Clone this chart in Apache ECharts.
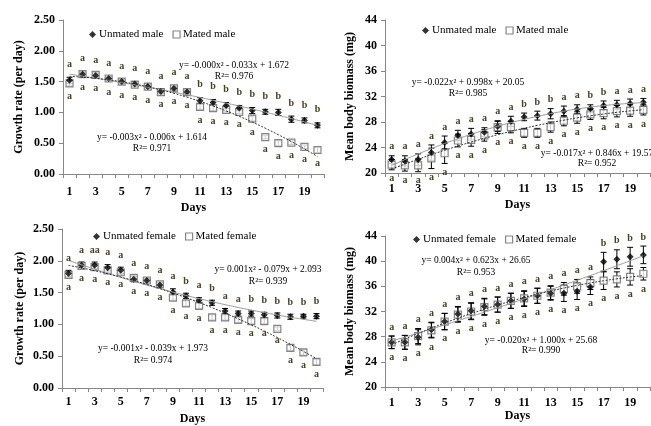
<!DOCTYPE html>
<html>
<head>
<meta charset="utf-8">
<script src="https://cdn.jsdelivr.net/npm/echarts@6/dist/echarts.min.js"></script>
<style>
  html, body { margin: 0; padding: 0; background: #fff; }
  #main { width: 651px; height: 426px; }
</style>
</head>
<body>
<div id="main"></div>
<script>
// days on the x axis
var days = ['1','2','3','4','5','6','7','8','9','10','11','12','13','14','15','16','17','18','19','20'];

// growth rate, males
var maleRateUnmated    = [1.52,1.62,1.60,1.55,1.50,1.46,1.42,1.34,1.39,1.33,1.19,1.16,1.11,1.07,1.03,1.01,1.00,0.89,0.87,0.79];
var maleRateUnmatedErr = [0.05,0.04,0.04,0.04,0.04,0.04,0.04,0.04,0.04,0.04,0.05,0.05,0.05,0.04,0.05,0.04,0.05,0.05,0.04,0.04];
var maleRateMated      = [1.47,1.62,1.61,1.55,1.50,1.45,1.42,1.33,1.39,1.33,1.09,1.07,1.04,1.01,0.90,0.60,0.50,0.51,0.44,0.39];
var maleRateMatedErr   = [0.04,0.03,0.03,0.03,0.03,0.03,0.03,0.03,0.03,0.03,0.04,0.04,0.03,0.03,0.04,0.03,0.04,0.03,0.03,0.04];
var maleRateTop = ['a','a','a','a','a','a','a','a','a','a','b','b','b','b','b','b','b','b','b','b'];
var maleRateBot = ['a','a','a','a','a','a','a','a','a','a','a','a','a','a','a','a','a','a','a','a'];

// body biomass, males
var maleMassUnmated    = [22.1,21.9,22.1,23.2,24.8,25.9,26.1,26.4,27.3,28.1,28.8,29.0,29.3,29.7,30.0,30.1,30.6,30.7,30.9,31.1];
var maleMassUnmatedErr = [0.6,0.8,0.9,1.2,1.0,0.8,0.9,0.7,0.8,0.8,0.6,0.7,0.8,0.8,0.7,0.6,0.7,0.7,0.7,0.6];
var maleMassMated      = [21.3,21.2,21.2,22.3,23.1,25.1,25.2,25.9,27.2,27.2,26.3,26.3,27.2,28.2,28.7,29.2,29.4,29.7,29.8,29.9];
var maleMassMatedErr   = [0.8,0.9,1.0,1.6,1.6,1.0,1.0,0.9,1.0,0.9,0.7,0.7,0.8,0.8,0.9,0.8,0.9,0.9,0.9,0.8];
var maleMassTop = ['a','a','a','a','a','a','a','a','a','a','b','b','b','a','a','b','b','a','a','a'];
var maleMassBot = ['a','a','a','a','a','a','a','a','a','a','a','a','a','a','a','a','a','a','a','a'];

// growth rate, females
var femRateUnmated    = [1.80,1.93,1.93,1.89,1.85,1.71,1.69,1.62,1.51,1.45,1.38,1.34,1.21,1.17,1.17,1.15,1.14,1.12,1.13,1.13];
var femRateUnmatedErr = [0.05,0.05,0.05,0.05,0.05,0.04,0.04,0.04,0.05,0.04,0.04,0.04,0.04,0.04,0.04,0.04,0.04,0.04,0.03,0.04];
var femRateMated      = [1.78,1.92,1.90,1.85,1.82,1.73,1.69,1.63,1.42,1.33,1.29,1.11,1.11,1.07,1.05,1.05,0.93,0.63,0.56,0.41];
var femRateMatedErr   = [0.04,0.04,0.04,0.04,0.04,0.04,0.03,0.03,0.04,0.04,0.04,0.04,0.04,0.04,0.04,0.04,0.03,0.04,0.04,0.04];
var femRateTop = ['a','a','aa','a','a','a','a','a','a','b','a','b','a','a','b','b','b','b','b','b'];
var femRateBot = ['a','a','a','a','a','a','a','a','a','a','a','a','a','a','a','a','a','a','a','a'];

// body biomass, females
var femMassUnmated    = [27.1,27.1,27.9,29.1,30.4,31.6,32.1,32.8,33.1,33.7,34.0,34.5,34.9,34.9,35.2,35.9,39.9,40.3,40.7,41.0];
var femMassUnmatedErr = [1.0,1.1,1.2,1.2,1.3,1.2,1.3,1.3,1.2,1.2,1.2,1.2,1.1,1.3,1.3,1.2,1.5,1.5,1.5,1.4];
var femMassMated      = [27.1,27.1,28.1,29.0,30.4,31.5,32.0,32.7,33.1,33.7,34.1,34.5,35.0,35.6,36.0,36.5,36.9,37.1,37.5,38.0];
var femMassMatedErr   = [1.0,1.1,1.2,1.2,1.3,1.2,1.3,1.3,1.2,1.2,1.2,1.2,1.1,1.0,1.1,1.0,1.4,1.2,1.3,1.0];
var femMassTop = ['a','a','a','a','a','a','a','a','a','a','a','a','a','a','a','a','b','b','b','b'];
var femMassBot = ['a','a','a','a','a','a','a','a','a','a','a','a','a','a','a','a','a','a','a','a'];

var serif = "'Liberation Serif', 'Times New Roman', serif";
var letterColor = '#4a4020';
var axisColor = '#888';

// least squares quadratic, same as the Excel trend line
function quadFit(ys) {
  var S = [0,0,0,0,0], T = [0,0,0];
  ys.forEach(function (y, i) {
    var x = i + 1, p = 1;
    for (var k = 0; k < 5; k++) { S[k] += p; if (k < 3) T[k] += y * p; p *= x; }
  });
  var m = [[S[4],S[3],S[2],T[2]],[S[3],S[2],S[1],T[1]],[S[2],S[1],S[0],T[0]]];
  for (var c = 0; c < 3; c++) {
    for (var r = c + 1; r < 3; r++) {
      var f = m[r][c] / m[c][c];
      for (var k2 = c; k2 < 4; k2++) m[r][k2] -= f * m[c][k2];
    }
  }
  var sol = [0,0,0];
  for (var r2 = 2; r2 >= 0; r2--) {
    var s = m[r2][3];
    for (var k3 = r2 + 1; k3 < 3; k3++) s -= m[r2][k3] * sol[k3];
    sol[r2] = s / m[r2][r2];
  }
  return ys.map(function (y, i) { var x = i + 1; return sol[0]*x*x + sol[1]*x + sol[2]; });
}

function errBar(params, api) {
  var i = api.value(0);
  var lo = api.coord([i, api.value(1)]);
  var hi = api.coord([i, api.value(2)]);
  var w = 3, st = { stroke: '#000', lineWidth: 1 };
  return { type: 'group', children: [
    { type: 'line', shape: { x1: lo[0], y1: lo[1], x2: hi[0], y2: hi[1] }, style: st },
    { type: 'line', shape: { x1: lo[0]-w, y1: lo[1], x2: lo[0]+w, y2: lo[1] }, style: st },
    { type: 'line', shape: { x1: hi[0]-w, y1: hi[1], x2: hi[0]+w, y2: hi[1] }, style: st }
  ]};
}

function panel(g, names, unm, unmErr, mat, matErr, top, bot, gapTop, gapBot) {
  var letterData = days.map(function (d, i) {
    return [i, Math.max(unm[i] + unmErr[i], mat[i] + matErr[i]), Math.min(unm[i] - unmErr[i], mat[i] - matErr[i])];
  });
  var font = 'bold 10px ' + serif;
  return [
    { type: 'custom', xAxisIndex: g, yAxisIndex: g, renderItem: errBar, z: 2,
      data: days.map(function (d, i) { return [i, mat[i] - matErr[i], mat[i] + matErr[i]]; }) },
    { type: 'custom', xAxisIndex: g, yAxisIndex: g, renderItem: errBar, z: 2,
      data: days.map(function (d, i) { return [i, unm[i] - unmErr[i], unm[i] + unmErr[i]]; }) },
    { type: 'scatter', name: names[1], xAxisIndex: g, yAxisIndex: g, symbol: 'rect', symbolSize: 7, z: 3,
      itemStyle: { color: '#fff', borderColor: '#666', borderWidth: 1.2 }, data: mat },
    { type: 'scatter', name: names[0], xAxisIndex: g, yAxisIndex: g, symbol: 'diamond', symbolSize: 7, z: 4,
      itemStyle: { color: '#000' }, data: unm },
    { type: 'line', xAxisIndex: g, yAxisIndex: g, smooth: true, showSymbol: false, silent: true, z: 5,
      lineStyle: { color: '#999', width: 1 }, data: quadFit(unm) },
    { type: 'line', xAxisIndex: g, yAxisIndex: g, smooth: true, showSymbol: false, silent: true, z: 5,
      lineStyle: { color: '#333', width: 1, type: [2, 1.5] }, data: quadFit(mat) },
    { type: 'custom', xAxisIndex: g, yAxisIndex: g, silent: true, z: 6, data: letterData,
      renderItem: function (params, api) {
        var i = api.value(0);
        var t = api.coord([i, api.value(1)]);
        var b = api.coord([i, api.value(2)]);
        return { type: 'group', children: [
          { type: 'text', x: t[0], y: t[1] - gapTop,
            style: { text: top[params.dataIndex], font: font, fill: letterColor,
                     textAlign: 'center', textVerticalAlign: 'bottom', align: 'center', verticalAlign: 'bottom' } },
          { type: 'text', x: b[0], y: b[1] + gapBot,
            style: { text: bot[params.dataIndex], font: font, fill: letterColor,
                     textAlign: 'center', textVerticalAlign: 'top', align: 'center', verticalAlign: 'top' } }
        ]};
      } }
  ];
}

function xAxisFor(g, labelMargin, nameGap) {
  return {
    gridIndex: g, type: 'category', data: days, boundaryGap: true,
    axisLine: { lineStyle: { color: axisColor } },
    axisTick: { show: true, interval: 0, length: 4, lineStyle: { color: axisColor } },
    axisLabel: { interval: 1, color: '#000', fontFamily: serif, fontWeight: 'bold', fontSize: 12, margin: labelMargin },
    splitLine: { show: false },
    name: 'Days', nameLocation: 'middle', nameGap: nameGap,
    nameTextStyle: { color: '#000', fontFamily: serif, fontWeight: 'bold', fontSize: 12 }
  };
}

function yAxisFor(g, min, max, step, decimals, name, nameGap) {
  return {
    gridIndex: g, type: 'value', min: min, max: max, interval: step,
    axisLine: { show: true, lineStyle: { color: axisColor } },
    axisTick: { show: true, length: 4, lineStyle: { color: axisColor } },
    axisLabel: { color: '#000', fontFamily: serif, fontWeight: 'bold', fontSize: 12, margin: 8,
                 formatter: function (v) { return v.toFixed(decimals); } },
    splitLine: { show: false },
    name: name, nameLocation: 'middle', nameRotate: 90, nameGap: nameGap,
    nameTextStyle: { color: '#000', fontFamily: serif, fontWeight: 'bold', fontSize: 12 }
  };
}

function legendFor(left, top, names) {
  return {
    left: left, top: top, itemWidth: 7, itemHeight: 7, itemGap: 9,
    textStyle: { color: '#000', fontFamily: serif, fontSize: 11, padding: [0, 0, 0, -2] },
    data: [
      { name: names[0], icon: 'diamond', itemStyle: { color: '#000' } },
      { name: names[1], icon: 'rect', itemStyle: { color: '#fff', borderColor: '#666', borderWidth: 1.2 } }
    ]
  };
}

function eq(x, y, text) {
  return { type: 'text', x: x, y: y,
    style: { text: text, font: '9.5px ' + serif, fill: '#000',
             textAlign: 'center', textVerticalAlign: 'middle', align: 'center', verticalAlign: 'middle' } };
}

var male = ['Unmated male', 'Mated male'];
var female = ['Unmated female', 'Mated female'];

var chart = echarts.init(document.getElementById('main'));
chart.setOption({
  backgroundColor: '#fff',
  animation: false,
  grid: [
    { left: 63, top: 20, width: 261, height: 154 },
    { left: 385, top: 20, width: 265, height: 153 },
    { left: 62, top: 229, width: 261, height: 160 },
    { left: 385, top: 236, width: 265, height: 151 }
  ],
  xAxis: [xAxisFor(0, 12, 28), xAxisFor(1, 10, 26), xAxisFor(2, 8, 25), xAxisFor(3, 10, 23)],
  yAxis: [
    yAxisFor(0, 0, 2.5, 0.5, 2, 'Growth rate (per day)', 38),
    yAxisFor(1, 20, 44, 4, 0, 'Mean body biomass (mg)', 29),
    yAxisFor(2, 0, 2.5, 0.5, 2, 'Growth rate (per day)', 36),
    yAxisFor(3, 20, 44, 4, 0, 'Mean body biomass (mg)', 29)
  ],
  legend: [
    legendFor(84, 24, male),
    legendFor(417, 20, male),
    legendFor(88, 226, female),
    legendFor(408, 229, female)
  ],
  graphic: [
    eq(234, 65, 'y= -0.000x² - 0.033x + 1.672'),
    eq(234, 76, 'R²= 0.976'),
    eq(152, 137, 'y= -0.003x² - 0.006x + 1.614'),
    eq(152, 148, 'R²= 0.971'),
    eq(468, 82, 'y= -0.022x² + 0.998x + 20.05'),
    eq(468, 93, 'R²= 0.985'),
    eq(597, 153, 'y= -0.017x² + 0.846x + 19.57'),
    eq(597, 163, 'R²= 0.952'),
    eq(268, 269, 'y= 0.001x² - 0.079x + 2.093'),
    eq(268, 281, 'R²= 0.939'),
    eq(153, 348, 'y= -0.001x² - 0.039x + 1.973'),
    eq(153, 360, 'R²= 0.974'),
    eq(476, 260, 'y= 0.004x² + 0.623x + 26.65'),
    eq(476, 272, 'R²= 0.953'),
    eq(541, 340, 'y= -0.020x² + 1.000x + 25.68'),
    eq(541, 350, 'R²= 0.990')
  ],
  series: [].concat(
    panel(0, male, maleRateUnmated, maleRateUnmatedErr, maleRateMated, maleRateMatedErr, maleRateTop, maleRateBot, 8, 6),
    panel(1, male, maleMassUnmated, maleMassUnmatedErr, maleMassMated, maleMassMatedErr, maleMassTop, maleMassBot, 4, 4),
    panel(2, female, femRateUnmated, femRateUnmatedErr, femRateMated, femRateMatedErr, femRateTop, femRateBot, 7, 5),
    panel(3, female, femMassUnmated, femMassUnmatedErr, femMassMated, femMassMatedErr, femMassTop, femMassBot, 4, 4)
  )
});
</script>
</body>
</html>
